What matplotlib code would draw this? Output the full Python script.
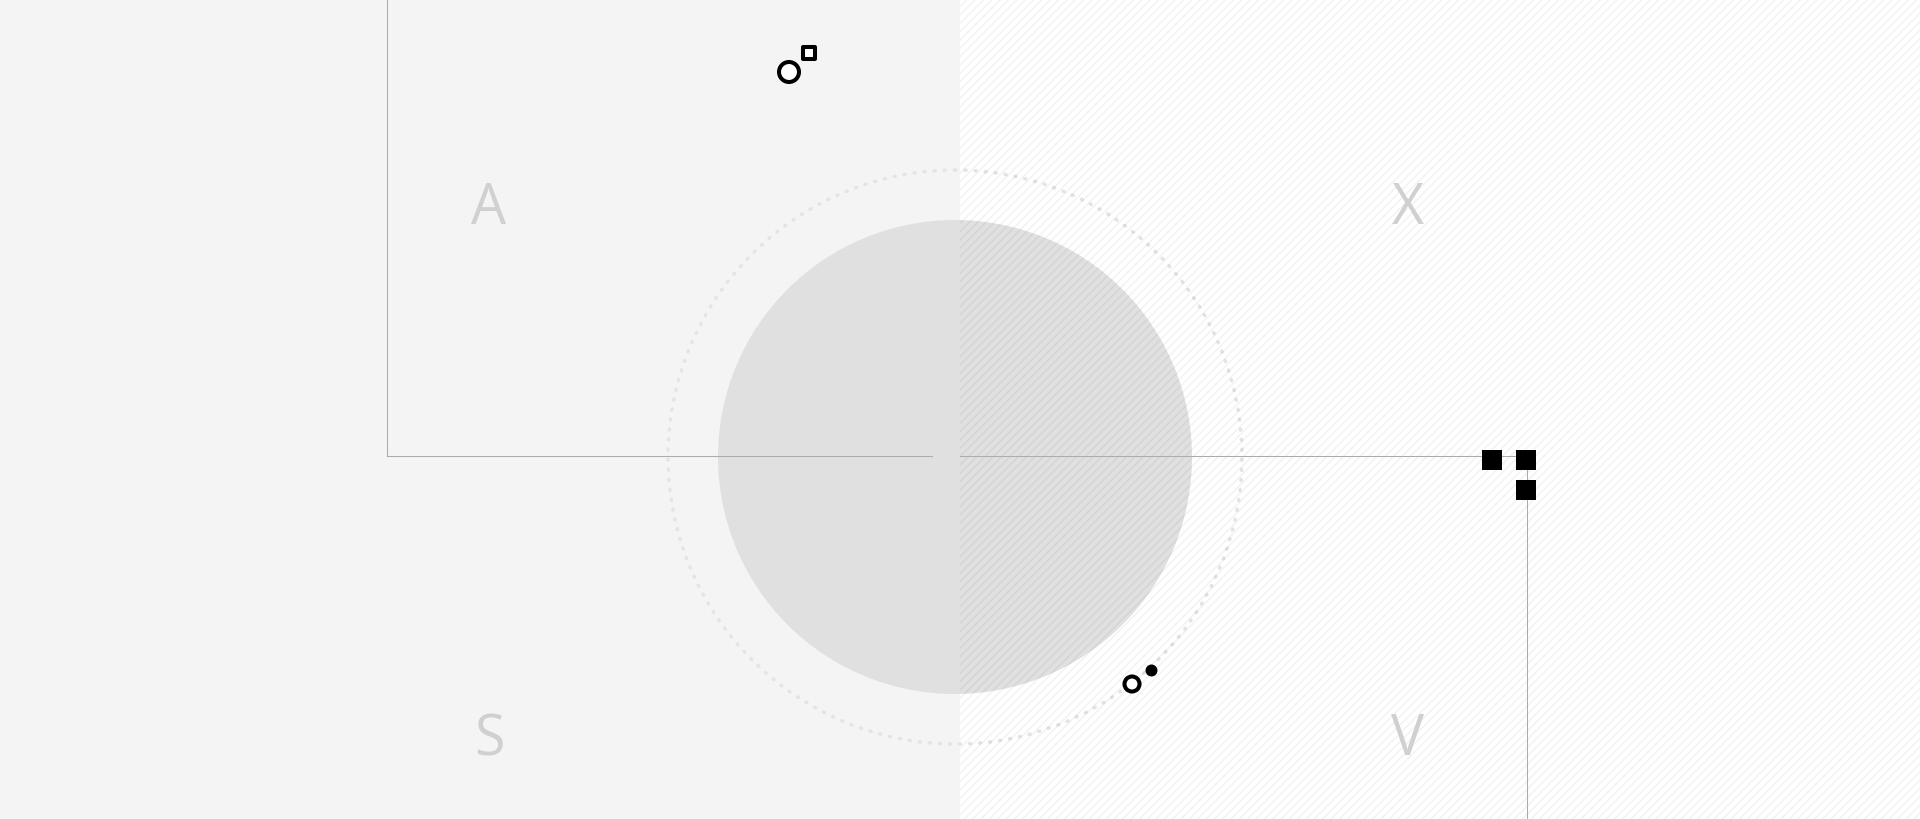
"""
四象限示意图
"""
import matplotlib
matplotlib.use("Agg")
import matplotlib.pyplot as plt
from matplotlib.patches import Rectangle, Circle
from matplotlib.markers import MarkerStyle

plt.rcParams['font.family'] = ['Open Sans', 'DejaVu Sans']

# 象限标签
labels = ['A', 'X', 'S', 'V']
label_x = [489, 1408, 489, 1408]
label_y = [210, 210, 741, 741]

# 标记点
open_circle_x = [789, 1132]
open_circle_y = [73, 685]
open_circle_s = [207, 117]
open_square_x = [809]
open_square_y = [54]
filled_square_x = [1492, 1526, 1526]
filled_square_y = [461, 461, 491]
filled_circle_x = [1151]
filled_circle_y = [671]

W, H = 1920, 820
fig = plt.figure(figsize=(19.2, 8.2), dpi=100)
ax = fig.add_axes([0, 0, 1, 1])
ax.set_xlim(0, W)
ax.set_ylim(H, 0)
ax.axis('off')

# 背景
ax.add_patch(Rectangle((0, 0), 960, H, facecolor='#f4f4f4', edgecolor='none', zorder=0))
ax.add_patch(Rectangle((960, 0), 960, H, facecolor='white', edgecolor='none', zorder=0))

# 圆
ax.add_patch(Circle((955, 458), 237, facecolor='#e0e0e0', edgecolor='none', zorder=1))
ax.add_patch(Circle((955, 458), 287, facecolor='none', edgecolor='#e4e4e4',
                    linewidth=2.5, linestyle=(0, (0.3, 2.6)), capstyle='round', zorder=1))

# 右半边斜线
plt.rcParams['hatch.linewidth'] = 1.0
ax.add_patch(Rectangle((960, 0), 960, H, facecolor='none', edgecolor=(0, 0, 0, 0.055),
                       hatch='////', linewidth=0, zorder=2))

# 线
lc = '#acacac'
ax.plot([387, 387], [0, 457], color=lc, linewidth=0.75, zorder=3)
ax.plot([387, 932], [457, 457], color=lc, linewidth=0.75, zorder=3)
ax.plot([960, 1527], [457, 457], color=lc, linewidth=0.75, zorder=3)
ax.plot([1527, 1527], [457, 820], color=lc, linewidth=0.75, zorder=3)

# 标签
for t, x, y in zip(labels, label_x, label_y):
    ax.text(x, y, t, fontsize=40, color='#d0d0d0', ha='center', va='center', zorder=3)

# 标记
ax.scatter(open_circle_x, open_circle_y, s=open_circle_s, facecolors='white',
           edgecolors='black', linewidths=2.9, zorder=4)
ax.scatter(open_square_x, open_square_y, s=74, marker=MarkerStyle('s', joinstyle='miter'),
           facecolors='white', edgecolors='black', linewidths=2.9, zorder=4)
ax.scatter(filled_square_x, filled_square_y, s=207, marker='s', color='black',
           linewidths=0, zorder=4)
ax.scatter(filled_circle_x, filled_circle_y, s=74, color='black', linewidths=0, zorder=4)

fig.savefig('out.png', dpi=100)
